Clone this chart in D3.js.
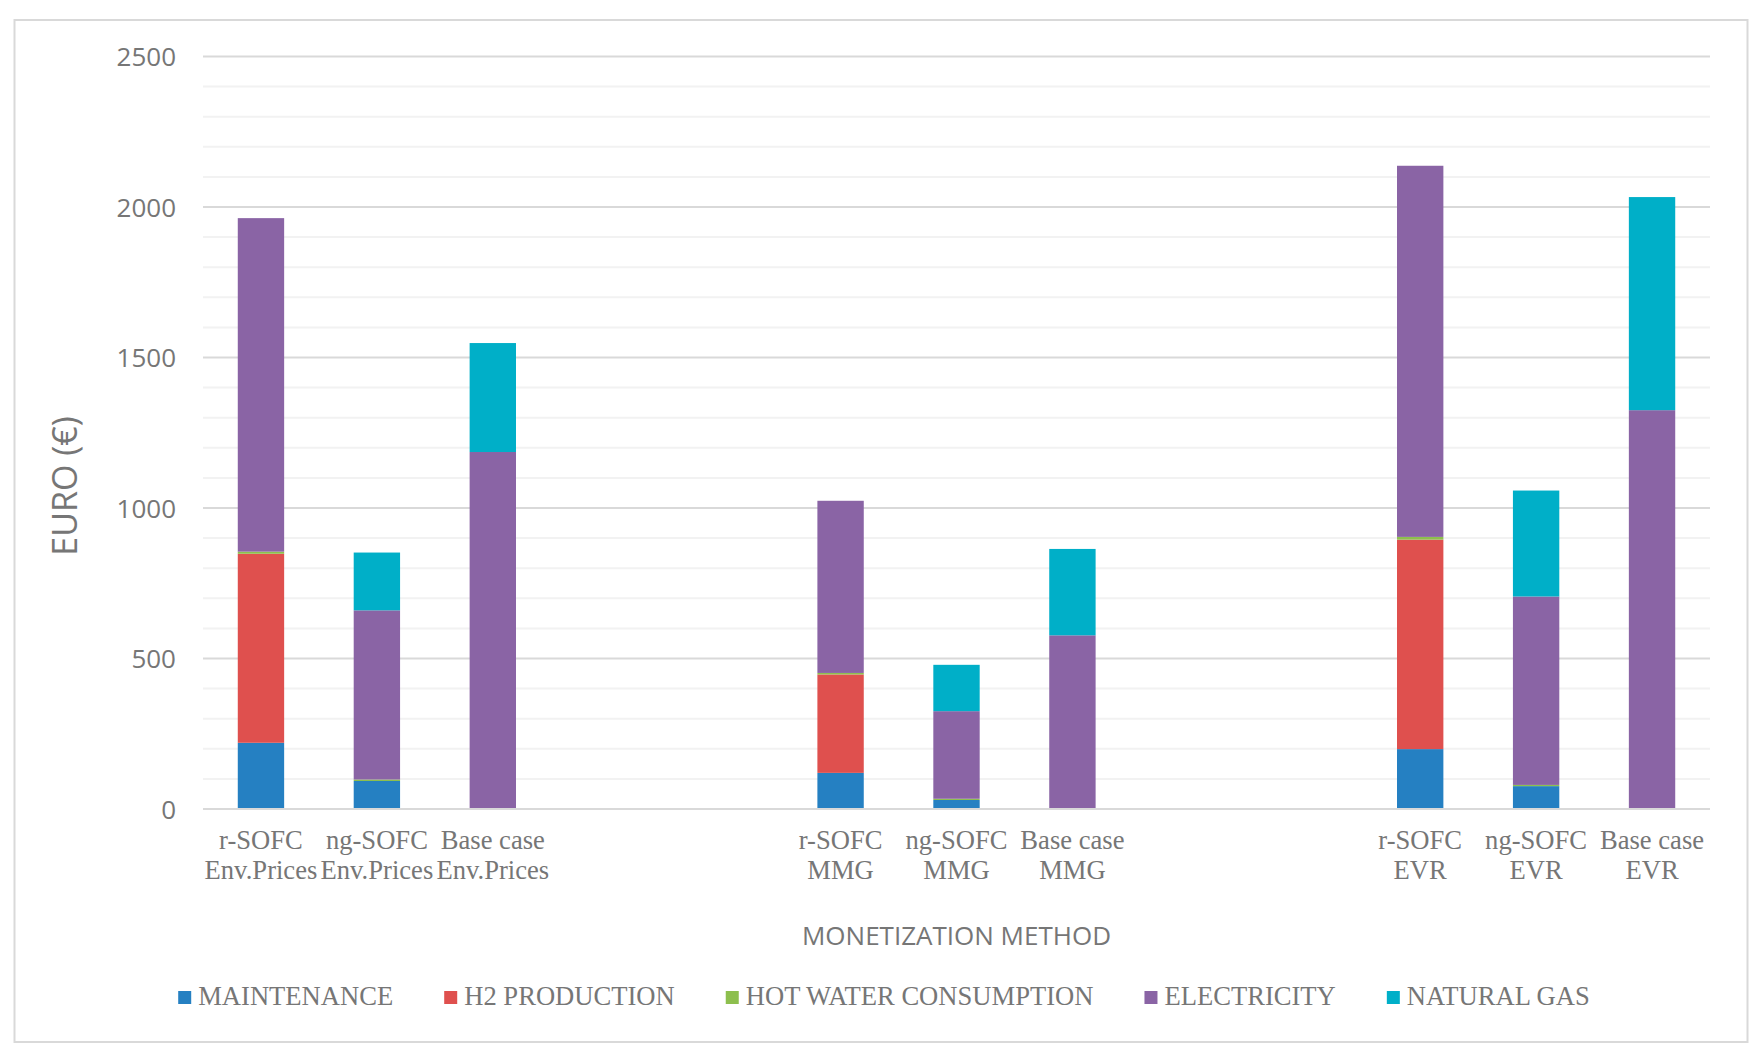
<!DOCTYPE html>
<html>
<head>
<meta charset="utf-8">
<script src="https://cdn.jsdelivr.net/npm/d3@7"></script>
<style>
  html, body { margin: 0; padding: 0; background: #ffffff; }
  svg { display: block; }
</style>
</head>
<body>
<svg id="chart" width="1762" height="1059"></svg>
<script>
// ---- Data ----
const categories = [
  ["r-SOFC", "Env.Prices"], ["ng-SOFC", "Env.Prices"], ["Base case", "Env.Prices"],
  null, null,
  ["r-SOFC", "MMG"], ["ng-SOFC", "MMG"], ["Base case", "MMG"],
  null, null,
  ["r-SOFC", "EVR"], ["ng-SOFC", "EVR"], ["Base case", "EVR"]
];
const seriesNames = ["MAINTENANCE", "H2 PRODUCTION", "HOT WATER CONSUMPTION", "ELECTRICITY", "NATURAL GAS"];
const maintenance = [220, 93, 0, 0, 0, 120, 30, 0, 0, 0, 199, 76, 0];
const h2Production = [628, 0, 0, 0, 0, 327, 0, 0, 0, 0, 696, 0, 0];
const hotWater = [7, 5, 0, 0, 0, 5, 4, 0, 0, 0, 9, 4, 0];
const electricity = [1108, 562, 1186, 0, 0, 572, 291, 577, 0, 0, 1233, 626, 1325];
const naturalGas = [0, 192, 362, 0, 0, 0, 154, 287, 0, 0, 0, 352, 708];
const seriesColors = ["#2580C2", "#DF504E", "#8DBF4E", "#8A64A5", "#00AFC8"];
const yTicks = [0, 500, 1000, 1500, 2000, 2500];
const yTitle = "EURO (€)";
const xTitle = "MONETIZATION METHOD";

// ---- Layout ----
const svg = d3.select("#chart");
const plot = { left: 203, right: 1710, top: 56.5, bottom: 809 };
const grayText = "#767676";
const sans = "'Open Sans', 'Noto Sans', sans-serif";
const serif = "'Liberation Serif', 'DejaVu Serif', serif";

// outer chart border
svg.append("rect")
  .attr("x", 14.5).attr("y", 20).attr("width", 1733).attr("height", 1022)
  .attr("fill", "#fff").attr("stroke", "#d9d9d9").attr("stroke-width", 2);

const table = categories.map((c, i) => ({
  idx: i,
  MAINTENANCE: maintenance[i],
  "H2 PRODUCTION": h2Production[i],
  "HOT WATER CONSUMPTION": hotWater[i],
  ELECTRICITY: electricity[i],
  "NATURAL GAS": naturalGas[i]
}));

const x = d3.scaleBand()
  .domain(d3.range(categories.length))
  .range([plot.left, plot.right])
  .paddingInner(0.6)
  .paddingOuter(0.3);

const y = d3.scaleLinear().domain([0, 2500]).range([plot.bottom, plot.top]);
const color = d3.scaleOrdinal().domain(seriesNames).range(seriesColors);

// minor gridlines
const gridG = svg.append("g");
gridG.selectAll("line.minor")
  .data(d3.range(100, 2500, 100).filter(v => v % 500 !== 0))
  .join("line")
  .attr("x1", plot.left).attr("x2", plot.right)
  .attr("y1", d => y(d)).attr("y2", d => y(d))
  .attr("stroke", "#f2f2f2").attr("stroke-width", 2);
// major gridlines
gridG.selectAll("line.major")
  .data(yTicks)
  .join("line")
  .attr("x1", plot.left).attr("x2", plot.right)
  .attr("y1", d => y(d)).attr("y2", d => y(d))
  .attr("stroke", "#d9d9d9").attr("stroke-width", 2.2);

// Y axis labels via d3 axis
const yAxis = d3.axisLeft(y).tickValues(yTicks).tickFormat(d3.format("d")).tickSize(0).tickPadding(0);
const yAxisG = svg.append("g")
  .attr("transform", `translate(176,0)`)
  .call(yAxis);
yAxisG.select(".domain").remove();
yAxisG.selectAll("text")
  .attr("font-family", sans).attr("font-size", 26)
  .attr("fill", grayText).attr("dy", "0.36em");

// stacked bars
const stack = d3.stack().keys(seriesNames);
const stacked = stack(table);
svg.append("g").selectAll("g")
  .data(stacked)
  .join("g")
  .attr("fill", d => color(d.key))
  .selectAll("rect")
  .data(d => d.filter(p => p[1] - p[0] > 0))
  .join("rect")
  .attr("x", d => x(d.data.idx))
  .attr("width", x.bandwidth())
  .attr("y", d => y(d[1]))
  .attr("height", d => y(d[0]) - y(d[1]));

// axis line at 0
svg.append("line")
  .attr("x1", plot.left).attr("x2", plot.right)
  .attr("y1", y(0)).attr("y2", y(0))
  .attr("stroke", "#d9d9d9").attr("stroke-width", 2.2);

// X category labels
const xLab = svg.append("g");
categories.forEach((c, i) => {
  if (!c) return;
  const cx = x(i) + x.bandwidth() / 2;
  c.forEach((line, k) => {
    xLab.append("text")
      .attr("x", cx).attr("y", 849 + k * 29.5)
      .attr("text-anchor", "middle")
      .attr("font-family", serif).attr("font-size", 26.6)
      .attr("fill", grayText)
      .text(line);
  });
});

// Axis titles
svg.append("text")
  .attr("x", (plot.left + plot.right) / 2).attr("y", 945)
  .attr("text-anchor", "middle")
  .attr("font-family", sans).attr("font-size", 26)
  .attr("fill", grayText)
  .text(xTitle);

svg.append("text")
  .attr("transform", "translate(77,486) rotate(-90)")
  .attr("text-anchor", "middle")
  .attr("font-family", sans).attr("font-size", 34)
  .attr("fill", grayText)
  .text(yTitle);

// Legend
const legend = svg.append("g");
const items = legend.selectAll("g").data(seriesNames).join("g");
items.append("rect")
  .attr("width", 13).attr("height", 13)
  .attr("y", -14)
  .attr("fill", d => color(d));
items.append("text")
  .attr("x", 20).attr("y", 0)
  .attr("font-family", serif).attr("font-size", 26.6)
  .attr("fill", grayText)
  .text(d => d);
let offset = 0;
const gap = 51;
const widths = [];
items.each(function () {
  const w = this.querySelector("text").getComputedTextLength() + 20;
  widths.push(w);
});
const total = d3.sum(widths) + gap * (widths.length - 1);
let start = 884 - total / 2;
items.attr("transform", (d, i) => {
  const tx = start + offset;
  offset += widths[i] + gap;
  return `translate(${tx},1005)`;
});
</script>
</body>
</html>
